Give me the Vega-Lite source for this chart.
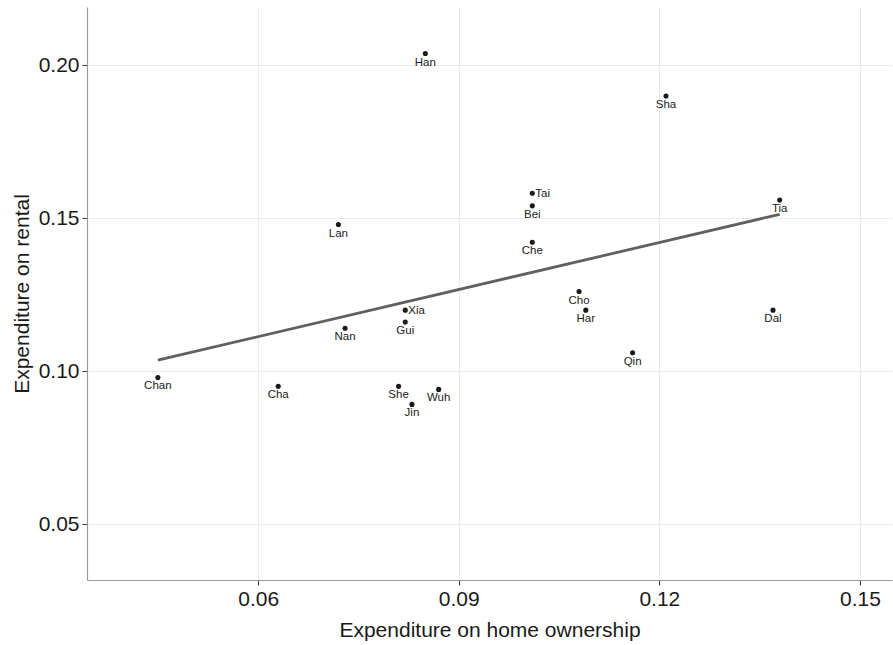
{
  "$schema": "https://vega.github.io/schema/vega-lite/v6.json",
  "width": 805,
  "height": 573,
  "autosize": {"type": "none"},
  "padding": {"left": 87, "top": 7, "right": 1, "bottom": 65},
  "background": "white",
  "config": {
    "view": {"stroke": null},
    "font": "Liberation Sans",
    "axis": {
      "gridColor": "#ebebeb",
      "gridWidth": 1,
      "domainColor": "#9a9a9a",
      "domainWidth": 1.2,
      "tickColor": "#333333",
      "tickSize": 5,
      "labelFont": "Liberation Sans",
      "labelFontSize": 21,
      "labelColor": "#1a1a1a",
      "labelPadding": 3,
      "titleFont": "Liberation Sans",
      "titleFontSize": 21,
      "titleFontWeight": "normal",
      "titleColor": "#1a1a1a"
    }
  },
  "data": {
    "values": [
      {"city": "Han", "home": 0.085, "rental": 0.2038},
      {"city": "Sha", "home": 0.121, "rental": 0.1899},
      {"city": "Tai", "home": 0.101, "rental": 0.1581},
      {"city": "Bei", "home": 0.101, "rental": 0.1540},
      {"city": "Che", "home": 0.101, "rental": 0.1421},
      {"city": "Lan", "home": 0.072, "rental": 0.1479},
      {"city": "Tia", "home": 0.138, "rental": 0.1559},
      {"city": "Dal", "home": 0.137, "rental": 0.1199},
      {"city": "Chan", "home": 0.045, "rental": 0.0979},
      {"city": "Cha", "home": 0.063, "rental": 0.0950},
      {"city": "Nan", "home": 0.073, "rental": 0.1140},
      {"city": "Xia", "home": 0.082, "rental": 0.1199},
      {"city": "Gui", "home": 0.082, "rental": 0.1160},
      {"city": "She", "home": 0.081, "rental": 0.0950},
      {"city": "Jin", "home": 0.083, "rental": 0.0891},
      {"city": "Wuh", "home": 0.087, "rental": 0.0940},
      {"city": "Cho", "home": 0.108, "rental": 0.1260},
      {"city": "Har", "home": 0.109, "rental": 0.1199},
      {"city": "Qin", "home": 0.116, "rental": 0.1060}
    ]
  },
  "encoding": {
    "x": {
      "field": "home",
      "type": "quantitative",
      "scale": {"domain": [0.0344, 0.1548], "nice": false, "zero": false},
      "axis": {"values": [0.06, 0.09, 0.12, 0.15], "format": ".2f", "title": "Expenditure on home ownership", "titlePadding": 10}
    },
    "y": {
      "field": "rental",
      "type": "quantitative",
      "scale": {"domain": [0.0317, 0.219], "nice": false, "zero": false},
      "axis": {"values": [0.05, 0.10, 0.15, 0.20], "format": ".2f", "title": "Expenditure on rental", "titlePadding": 6}
    }
  },
  "layer": [
    {
      "transform": [{"regression": "rental", "on": "home"}],
      "mark": {"type": "line", "color": "#606060", "strokeWidth": 2.8}
    },
    {
      "mark": {"type": "circle", "size": 26, "color": "#1a1a1a", "opacity": 1}
    },
    {
      "transform": [{"filter": "datum.city !== 'Tai' && datum.city !== 'Xia'"}],
      "mark": {"type": "text", "baseline": "top", "dy": 3, "fontSize": 11.5, "color": "#222222", "font": "Liberation Sans"},
      "encoding": {"text": {"field": "city"}}
    },
    {
      "transform": [{"filter": "datum.city === 'Tai' || datum.city === 'Xia'"}],
      "mark": {"type": "text", "align": "left", "baseline": "middle", "dx": 3, "dy": 1, "fontSize": 11.5, "color": "#222222", "font": "Liberation Sans"},
      "encoding": {"text": {"field": "city"}}
    }
  ]
}
